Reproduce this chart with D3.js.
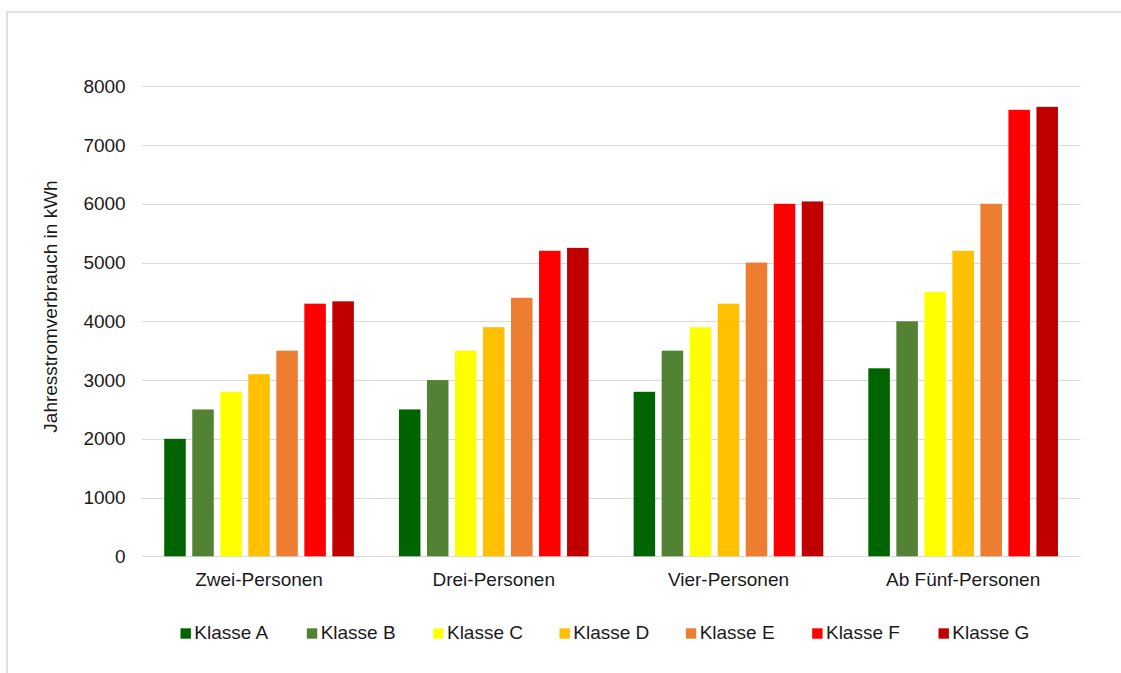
<!DOCTYPE html>
<html>
<head>
<meta charset="utf-8">
<script src="https://cdn.jsdelivr.net/npm/d3@7/dist/d3.min.js"></script>
<style>
  html, body { margin: 0; padding: 0; background: #fff; }
  svg { display: block; font-family: "Liberation Sans", Arial, sans-serif; }
</style>
</head>
<body>
<svg id="chart" width="1121" height="673"></svg>
<script>
// Household groups and efficiency classes
const groups = ["Zwei-Personen", "Drei-Personen", "Vier-Personen", "Ab Fünf-Personen"];
const classes = ["Klasse A", "Klasse B", "Klasse C", "Klasse D", "Klasse E", "Klasse F", "Klasse G"];
const classColors = ["#006400", "#548235", "#FFFF00", "#FFC000", "#ED7D31", "#FF0000", "#C00000"];

// Annual consumption in kWh per class, one array per household group
const zweiPersonen = [2000, 2500, 2800, 3100, 3500, 4300, 4340];
const dreiPersonen = [2500, 3000, 3500, 3900, 4400, 5200, 5250];
const vierPersonen = [2800, 3500, 3900, 4300, 5000, 6000, 6040];
const fuenfPersonen = [3200, 4000, 4500, 5200, 6000, 7600, 7650];
const yTicks = [0, 1000, 2000, 3000, 4000, 5000, 6000, 7000, 8000];
const yTitle = "Jahresstromverbrauch in kWh";

const seriesByGroup = [zweiPersonen, dreiPersonen, vierPersonen, fuenfPersonen];
const rows = groups.map((g, i) => ({
  group: g,
  values: classes.map((c, j) => ({ cls: c, value: seriesByGroup[i][j], color: classColors[j] }))
}));

const svg = d3.select("#chart");
const textColor = "#1a1a1a";
const gridColor = "#d9d9d9";
const fontSize = 19;

// Outer frame
svg.append("rect")
  .attr("x", 7).attr("y", 12)
  .attr("width", 1130).attr("height", 680)
  .attr("fill", "#fff")
  .attr("stroke", "#d9d9d9").attr("stroke-width", 1.6);

const plot = { left: 141.7, right: 1080.5, top: 86.3, bottom: 556.3 };

const x0 = d3.scaleBand()
  .domain(groups)
  .range([plot.left, plot.right])
  .paddingInner(0.192)
  .paddingOuter(0.096);

const x1 = d3.scaleBand()
  .domain(classes)
  .range([0, x0.bandwidth()])
  .paddingInner(0.232)
  .paddingOuter(0);

const y = d3.scaleLinear()
  .domain([0, 8000])
  .range([plot.bottom, plot.top]);

// Horizontal gridlines
svg.append("g")
  .selectAll("line")
  .data(yTicks)
  .join("line")
  .attr("x1", plot.left).attr("x2", plot.right)
  .attr("y1", d => Math.round(y(d)) + 0.5)
  .attr("y2", d => Math.round(y(d)) + 0.5)
  .attr("stroke", gridColor).attr("stroke-width", 1);

// Y axis labels
const yAxis = d3.axisLeft(y).tickValues(yTicks).tickSize(0).tickPadding(16).tickFormat(d3.format("d"));
const gy = svg.append("g")
  .attr("transform", `translate(${plot.left},0)`)
  .call(yAxis);
gy.select(".domain").remove();
gy.selectAll("text")
  .attr("font-size", fontSize)
  .attr("font-family", "Liberation Sans, Arial, sans-serif")
  .attr("fill", textColor);

// Bars
const gGroups = svg.append("g")
  .selectAll("g")
  .data(rows)
  .join("g")
  .attr("transform", d => `translate(${x0(d.group)},0)`);

gGroups.selectAll("rect")
  .data(d => d.values)
  .join("rect")
  .attr("x", d => x1(d.cls))
  .attr("y", d => y(d.value))
  .attr("width", x1.bandwidth())
  .attr("height", d => y(0) - y(d.value))
  .attr("fill", d => d.color);

// Category axis
const xAxis = d3.axisBottom(x0).tickSize(0).tickPadding(16);
const gx = svg.append("g")
  .attr("transform", `translate(0,${plot.bottom})`)
  .call(xAxis);
gx.select(".domain").remove();
gx.selectAll("text")
  .attr("font-size", fontSize)
  .attr("font-family", "Liberation Sans, Arial, sans-serif")
  .attr("fill", textColor);

// Y axis title
svg.append("text")
  .attr("transform", `translate(57,306.5) rotate(-90)`)
  .attr("text-anchor", "middle")
  .attr("font-size", fontSize)
  .attr("fill", textColor)
  .text(yTitle);

// Legend
const legendX = d3.scalePoint()
  .domain(classes)
  .range([180.5, 938.5]);

const legend = svg.append("g")
  .selectAll("g")
  .data(classes)
  .join("g")
  .attr("transform", d => `translate(${legendX(d)},0)`);

legend.append("rect")
  .attr("x", 0).attr("y", 628.3)
  .attr("width", 10.4).attr("height", 10.4)
  .attr("fill", (d, i) => classColors[i]);

legend.append("text")
  .attr("x", 13.8).attr("y", 639)
  .attr("font-size", fontSize)
  .attr("fill", textColor)
  .text(d => d);
</script>
</body>
</html>
